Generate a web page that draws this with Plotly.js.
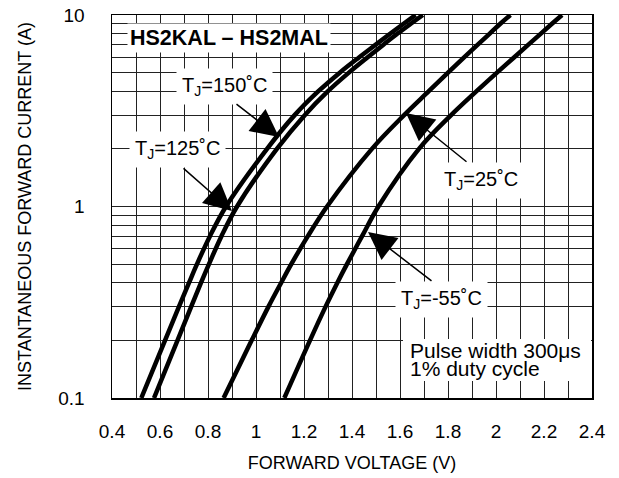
<!DOCTYPE html>
<html>
<head>
<meta charset="utf-8">
<script src="https://cdn.plot.ly/plotly-3.0.1.min.js"></script>
<style>html,body{margin:0;padding:0;background:#fff;}</style>
</head>
<body>
<div id="chart" style="width:619px;height:478px;"></div>
<script>
// Forward current levels (A) at which voltages were read
const currentA = [0.1, 0.2, 0.3, 0.4, 0.5, 0.7, 1, 2, 3, 4, 5, 6, 7, 8, 9, 10];
// Forward voltage (V) for each junction temperature
const vf150 = [0.522, 0.621, 0.679, 0.721, 0.754, 0.808, 0.875, 1.046, 1.161, 1.260, 1.349, 1.429, 1.499, 1.560, 1.615, 1.665];
const vf125 = [0.575, 0.673, 0.730, 0.771, 0.804, 0.856, 0.921, 1.087, 1.203, 1.300, 1.387, 1.464, 1.531, 1.590, 1.645, 1.695];
const vf25  = [0.865, 0.982, 1.052, 1.105, 1.147, 1.216, 1.296, 1.483, 1.617, 1.720, 1.800, 1.867, 1.924, 1.974, 2.018, 2.060];
const vfm55 = [1.118, 1.225, 1.290, 1.339, 1.379, 1.442, 1.510, 1.679, 1.813, 1.919, 2.004, 2.075, 2.135, 2.187, 2.233, 2.275];

const xTickVals = [0.4, 0.6, 0.8, 1.0, 1.2, 1.4, 1.6, 1.8, 2.0, 2.2, 2.4];
const xTickText = ['0.4', '0.6', '0.8', '1', '1.2', '1.4', '1.6', '1.8', '2', '2.2', '2.4'];
const yTickVals = [0.1, 1, 10];
const yTickText = ['0.1', '1', '10'];

const xMinor = [];
for (let i = 5; i <= 23; i += 2) xMinor.push(i / 10);
const yMinor = [];
[0.1, 1].forEach(d => { for (let k = 2; k <= 9; k++) yMinor.push(+(k * d).toFixed(2)); });

const FONT = 'Liberation Sans, Arial, Helvetica, sans-serif';

function curve(v) {
  return { x: v, y: currentA, type: 'scatter', mode: 'lines',
           line: { color: '#000', width: 4.5, shape: 'spline', smoothing: 1 },
           hoverinfo: 'skip' };
}
const data = [curve(vf150), curve(vf125), curve(vf25), curve(vfm55)];

// pixel helpers for annotation placement (plot area 112..592 x 15..398)
const px = x => (x - 112) / 480;
const py = y => (398 - y) / 383;

function label(text, x, y, opts) {
  return Object.assign({ xref: 'paper', yref: 'paper', x: px(x), y: py(y), text: text,
    xanchor: 'center', yanchor: 'middle',
    showarrow: false, bgcolor: '#fff', borderpad: 5, font: { size: 20, family: FONT, color: '#000' } }, opts || {});
}
function arrow(tipX, tipY, tailX, tailY) {
  return { xref: 'paper', yref: 'paper', x: px(tipX), y: py(tipY), ax: tailX - tipX, ay: tailY - tipY,
    text: '', showarrow: true, arrowhead: 2, arrowsize: 3.7, arrowwidth: 1.5, arrowcolor: '#000' };
}

const noteFont = { size: 21, family: FONT, color: '#000' };
const annotations = [
  label('<b>HS2KAL – HS2MAL</b>', 228.5, 37.5, { borderpad: 2, font: { size: 21.5, family: FONT, color: '#000' } }),
  label('T<sub>J</sub>=150˚C', 224, 86),
  label('T<sub>J</sub>=125˚C', 177.5, 149),
  label('T<sub>J</sub>=25˚C', 480.5, 181),
  label('T<sub>J</sub>=-55˚C', 441, 299.5),
  label('Pulse width 300μs', 409, 350, { xanchor: 'left', align: 'left', bgcolor: 'rgba(0,0,0,0)', borderpad: 0, font: noteFont }),
  label('1% duty cycle', 409, 368, { xanchor: 'left', align: 'left', bgcolor: 'rgba(0,0,0,0)', borderpad: 0, font: noteFont }),
  arrow(279, 137, 235, 103),
  arrow(232, 211, 182, 167),
  arrow(406, 113, 468, 163),
  arrow(368, 232, 433, 282)
];

// white panel behind the pulse-condition note (covers the grid like the reference)
const shapes = [
  { type: 'rect', xref: 'paper', yref: 'paper', layer: 'above',
    x0: px(403), x1: px(591), y0: py(381), y1: py(339),
    fillcolor: '#fff', line: { width: 0 } }
];

const gridCol = '#222';
const layout = {
  width: 619, height: 478,
  margin: { l: 112, r: 27, t: 15, b: 80 },
  paper_bgcolor: '#fff', plot_bgcolor: '#fff',
  showlegend: false,
  font: { family: FONT, color: '#000' },
  xaxis: {
    range: [0.4, 2.4], tickmode: 'array', tickvals: xTickVals, ticktext: xTickText,
    showgrid: true, gridcolor: gridCol, gridwidth: 1, zeroline: false,
    minor: { tickmode: 'array', tickvals: xMinor, showgrid: true, gridcolor: gridCol, gridwidth: 1, ticks: '' },
    showline: true, mirror: true, linecolor: '#000', linewidth: 1.5,
    ticks: 'outside', ticklen: 16, tickcolor: 'rgba(0,0,0,0)',
    tickfont: { size: 19, family: FONT, color: '#000' },
    title: { text: 'FORWARD VOLTAGE (V)', font: { size: 18, family: FONT, color: '#000' }, standoff: 15 }
  },
  yaxis: {
    type: 'log', range: [-1, 1], tickmode: 'array', tickvals: yTickVals, ticktext: yTickText,
    showgrid: true, gridcolor: gridCol, gridwidth: 1, zeroline: false,
    minor: { tickmode: 'array', tickvals: yMinor, showgrid: true, gridcolor: gridCol, gridwidth: 1, ticks: '' },
    showline: true, mirror: true, linecolor: '#000', linewidth: 1.5,
    ticks: 'outside', ticklen: 22, tickcolor: 'rgba(0,0,0,0)',
    tickfont: { size: 19, family: FONT, color: '#000' },
    title: { text: 'INSTANTANEOUS FORWARD CURRENT (A)', font: { size: 18, family: FONT, color: '#000' }, standoff: 22 }
  },
  shapes: shapes,
  annotations: annotations
};

Plotly.newPlot('chart', data, layout, { staticPlot: true, displayModeBar: false });
</script>
</body>
</html>
